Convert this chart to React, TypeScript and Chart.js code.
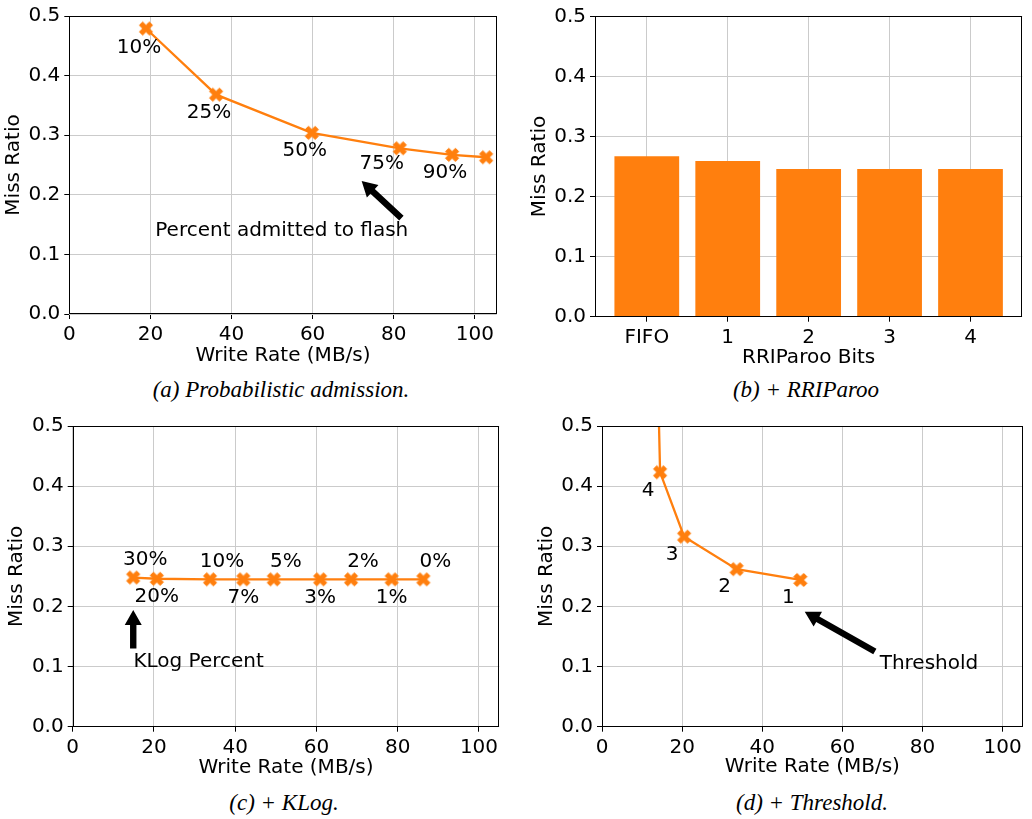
import React, { useEffect, useRef } from "react";
import { Chart, registerables } from "chart.js";

Chart.register(...registerables);

const ORANGE = "#ff7f0e";
const FONT = "DejaVu Sans";
const FS = 20;

// ---- Data ----
// (a) Probabilistic admission
const aWriteRate = [18.9, 36.2, 59.8, 81.5, 94.4, 102.8];
const aMissRatio = [0.479, 0.368, 0.304, 0.278, 0.267, 0.263];
const aLabels = ["10%", "25%", "50%", "75%", "90%", ""];

// (b) + RRIParoo
const bCategories = ["FIFO", "1", "2", "3", "4"];
const bMissRatio = [0.267, 0.259, 0.246, 0.246, 0.246];

// (c) + KLog
const cWriteRate = [14.9, 20.7, 33.8, 42.0, 49.5, 60.9, 68.5, 78.5, 86.3];
const cMissRatio = [0.248, 0.246, 0.245, 0.245, 0.245, 0.245, 0.245, 0.245, 0.245];
const cLabels = ["30%", "20%", "10%", "7%", "5%", "3%", "2%", "1%", "0%"];

// (d) + Threshold
const dWriteRate = [13.6, 14.5, 20.5, 33.6, 49.5];
const dMissRatio = [0.68, 0.423, 0.316, 0.262, 0.244];
const dLabels = ["", "4", "3", "2", "1"];

const xTicks = [0, 20, 40, 60, 80, 100];
const yTicks = [0, 0.1, 0.2, 0.3, 0.4, 0.5];
const bTicks = [0, 1, 2, 3, 4];

// ---- annotation texts (data coordinates) ----
const aNote = { text: "Percent admitted to flash", x: 52.4, y: 0.139, from: [81.9, 0.161], to: [72.1, 0.223] };
const cNote = { text: "KLog Percent", x: 31.0, y: 0.108, from: [14.9, 0.13], to: [14.9, 0.194] };
const dNote = { text: "Threshold", x: 81.6, y: 0.105, from: [68.1, 0.125], to: [50.6, 0.191] };

// label pixel offsets (style)
const aOffsets = [[-7, 19], [-7, 18], [-7, 18], [-18, 15], [-7, 18], [0, 0]];
const cOffsets = cLabels.map((_, i) => (i % 2 === 0 ? [12, -18] : [0, 18]));
const dOffsets = dLabels.map(() => [-12, 18]);

function makeXMarker() {
  const c = document.createElement("canvas");
  c.width = 18;
  c.height = 18;
  const ctx = c.getContext("2d")!;
  const s = 3.3;
  const pts = [[-1, -2], [0, -1], [1, -2], [2, -1], [1, 0], [2, 1], [1, 2], [0, 1], [-1, 2], [-2, 1], [-1, 0], [-2, -1]];
  ctx.translate(9, 9);
  ctx.beginPath();
  pts.forEach(([x, y], i) => (i ? ctx.lineTo(x * s, y * s) : ctx.moveTo(x * s, y * s)));
  ctx.closePath();
  ctx.fillStyle = ORANGE;
  ctx.fill();
  ctx.strokeStyle = ORANGE;
  ctx.lineWidth = 1;
  ctx.stroke();
  return c;
}

function drawArrow(ctx: CanvasRenderingContext2D, x1: number, y1: number, x2: number, y2: number) {
  const dx = x2 - x1, dy = y2 - y1;
  const len = Math.hypot(dx, dy);
  const ux = dx / len, uy = dy / len;
  const nx = -uy, ny = ux;
  const hl = 15, hw = 8.5, sw = 3.2;
  const bx = x2 - ux * hl, by = y2 - uy * hl;
  ctx.beginPath();
  ctx.moveTo(x1 + nx * sw, y1 + ny * sw);
  ctx.lineTo(bx + nx * sw, by + ny * sw);
  ctx.lineTo(bx + nx * hw, by + ny * hw);
  ctx.lineTo(x2, y2);
  ctx.lineTo(bx - nx * hw, by - ny * hw);
  ctx.lineTo(bx - nx * sw, by - ny * sw);
  ctx.lineTo(x1 - nx * sw, y1 - ny * sw);
  ctx.closePath();
  ctx.fill();
}

type Note = { text: string; x: number; y: number; from: number[]; to: number[] };

function annotPlugin(xs: number[] | null, ys: number[] | null, labels: string[] | null, offsets: number[][] | null, note: Note | null) {
  return {
    id: "annot",
    afterDatasetsDraw(chart: any) {
      const { ctx, scales } = chart;
      const sx = scales.x, sy = scales.y;
      ctx.save();
      ctx.fillStyle = "#000";
      ctx.font = `${FS}px "${FONT}"`;
      ctx.textAlign = "center";
      ctx.textBaseline = "middle";
      if (xs && ys && labels && offsets) {
        labels.forEach((t, i) => {
          if (!t) return;
          const px = sx.getPixelForValue(xs[i]) + offsets[i][0];
          const py = sy.getPixelForValue(ys[i]) + offsets[i][1];
          ctx.fillText(t, px, py);
        });
      }
      if (note) {
        ctx.fillText(note.text, sx.getPixelForValue(note.x), sy.getPixelForValue(note.y));
        drawArrow(
          ctx,
          sx.getPixelForValue(note.from[0]),
          sy.getPixelForValue(note.from[1]),
          sx.getPixelForValue(note.to[0]),
          sy.getPixelForValue(note.to[1])
        );
      }
      ctx.restore();
    },
    afterDraw(chart: any) {
      const { ctx, chartArea } = chart;
      ctx.save();
      ctx.strokeStyle = "#000";
      ctx.lineWidth = 1;
      const l = Math.round(chartArea.left) + 0.5;
      const t = Math.round(chartArea.top) + 0.5;
      const r = Math.round(chartArea.right) - 0.5;
      const b = Math.round(chartArea.bottom) - 0.5;
      ctx.strokeRect(l, t, r - l, b - t);
      ctx.restore();
    },
  };
}

type Area = { l: number; t: number; r: number; b: number };

function axisBase(ticks: number[], fmt: (v: number) => string) {
  return {
    type: "linear" as const,
    offset: false,
    afterBuildTicks: (s: any) => {
      s.ticks = ticks.map((v) => ({ value: v }));
    },
    ticks: {
      callback: (v: any) => fmt(Number(v)),
      font: { family: FONT, size: FS },
      color: "#000",
      padding: 4,
      maxRotation: 0,
      autoSkip: false,
    },
    grid: {
      color: "#cbcbcb",
      lineWidth: 1,
      tickLength: 5,
      tickColor: "#000",
      drawTicks: true,
      offset: false,
    },
    border: { display: false },
  };
}

function buildOptions(W: number, H: number, area: Area, yTitleX: number, xTitleY: number, xMin: number, xMax: number, xTickVals: number[], xFmt: (v: number) => string, xTitle: string) {
  const lh = FS * 1.2;
  const xAxis: any = axisBase(xTickVals, xFmt);
  xAxis.min = xMin;
  xAxis.max = xMax;
  xAxis.afterFit = (s: any) => {
    s.height = H - area.b;
  };
  xAxis.title = {
    display: true,
    text: xTitle,
    color: "#000",
    font: { family: FONT, size: FS },
    padding: { top: 0, bottom: H - xTitleY - lh / 2 },
  };
  const yAxis: any = axisBase(yTicks, (v) => v.toFixed(1));
  yAxis.min = 0;
  yAxis.max = 0.5;
  yAxis.afterFit = (s: any) => {
    s.width = area.l;
  };
  yAxis.title = {
    display: true,
    text: "Miss Ratio",
    color: "#000",
    font: { family: FONT, size: FS },
    padding: { top: yTitleX - lh / 2, bottom: 0 },
  };
  return {
    responsive: false,
    animation: false as const,
    devicePixelRatio: 1,
    layout: { padding: { left: 0, top: area.t, right: W - area.r, bottom: 0 } },
    plugins: { legend: { display: false }, tooltip: { enabled: false } },
    scales: { x: xAxis, y: yAxis },
  };
}

type PanelSpec = {
  left: number;
  top: number;
  W: number;
  H: number;
  make: (canvas: HTMLCanvasElement) => Chart;
};

function ChartCanvas({ spec }: { spec: PanelSpec }) {
  const ref = useRef<HTMLCanvasElement>(null);
  useEffect(() => {
    if (!ref.current) return;
    const ch = spec.make(ref.current);
    return () => ch.destroy();
  }, [spec]);
  return (
    <canvas
      ref={ref}
      width={spec.W}
      height={spec.H}
      style={{ position: "absolute", left: spec.left, top: spec.top, width: spec.W, height: spec.H }}
    />
  );
}

const W = 516;
const H = 372;
const marker = typeof document !== "undefined" ? makeXMarker() : null;

function lineDataset(xs: number[], ys: number[]) {
  return {
    data: xs.map((x, i) => ({ x, y: ys[i] })),
    borderColor: ORANGE,
    backgroundColor: ORANGE,
    borderWidth: 2.3,
    pointStyle: marker as any,
    pointRadius: 7,
    tension: 0,
    fill: false,
  };
}

const areaA: Area = { l: 69.3, t: 14, r: 496.7, b: 314 };
const areaB: Area = { l: 79, t: 16.3, r: 506.3, b: 316.7 };
const areaC: Area = { l: 72.7, t: 16, r: 499.3, b: 316.7 };
const areaD: Area = { l: 86, t: 16, r: 512.7, b: 316.7 };

const specA: PanelSpec = {
  left: 0, top: 0, W, H,
  make: (c) =>
    new Chart(c, {
      type: "line",
      data: { datasets: [lineDataset(aWriteRate, aMissRatio) as any] },
      options: buildOptions(W, H, areaA, 14, 356, 0, 105.4, xTicks, (v) => String(v), "Write Rate (MB/s)") as any,
      plugins: [annotPlugin(aWriteRate, aMissRatio, aLabels, aOffsets, aNote)],
    }),
};

const specB: PanelSpec = {
  left: 516, top: 0, W, H,
  make: (c) =>
    new Chart(c, {
      type: "bar",
      data: {
        datasets: [
          {
            data: bCategories.map((_, i) => ({ x: i, y: bMissRatio[i] })),
            backgroundColor: ORANGE,
            borderWidth: 0,
            barPercentage: 0.8,
            categoryPercentage: 1,
          } as any,
        ],
      },
      options: buildOptions(W, H, areaB, 24, 358, -0.64, 4.64, bTicks, (v) => bCategories[v] ?? "", "RRIParoo Bits") as any,
      plugins: [annotPlugin(null, null, null, null, null)],
    }),
};

const specC: PanelSpec = {
  left: 0, top: 410, W, H,
  make: (c) =>
    new Chart(c, {
      type: "line",
      data: { datasets: [lineDataset(cWriteRate, cMissRatio) as any] },
      options: buildOptions(W, H, areaC, 16.7, 357.3, 0, 105, xTicks, (v) => String(v), "Write Rate (MB/s)") as any,
      plugins: [annotPlugin(cWriteRate, cMissRatio, cLabels, cOffsets, cNote)],
    }),
};

const specD: PanelSpec = {
  left: 516, top: 410, W, H,
  make: (c) =>
    new Chart(c, {
      type: "line",
      data: { datasets: [lineDataset(dWriteRate, dMissRatio) as any] },
      options: buildOptions(W, H, areaD, 30.7, 357, 0, 105, xTicks, (v) => String(v), "Write Rate (MB/s)") as any,
      plugins: [annotPlugin(dWriteRate, dMissRatio, dLabels, dOffsets, dNote)],
    }),
};

const captions = [
  { text: "(a) Probabilistic admission.", cx: 281, cy: 390 },
  { text: "(b) + RRIParoo", cx: 806, cy: 390 },
  { text: "(c) + KLog.", cx: 284, cy: 803 },
  { text: "(d) + Threshold.", cx: 812, cy: 803 },
];

export default function App() {
  return (
    <div style={{ position: "absolute", left: 0, top: 0, width: 1032, height: 819, background: "#fff", overflow: "hidden" }}>
      <ChartCanvas spec={specA} />
      <ChartCanvas spec={specB} />
      <ChartCanvas spec={specC} />
      <ChartCanvas spec={specD} />
      {captions.map((c) => (
        <div
          key={c.text}
          style={{
            position: "absolute",
            left: c.cx - 200,
            top: c.cy - 14,
            width: 400,
            height: 28,
            lineHeight: "28px",
            textAlign: "center",
            fontFamily: '"Liberation Serif", serif',
            fontStyle: "italic",
            fontSize: 23,
            color: "#000",
            whiteSpace: "nowrap",
          }}
        >
          {c.text}
        </div>
      ))}
    </div>
  );
}
